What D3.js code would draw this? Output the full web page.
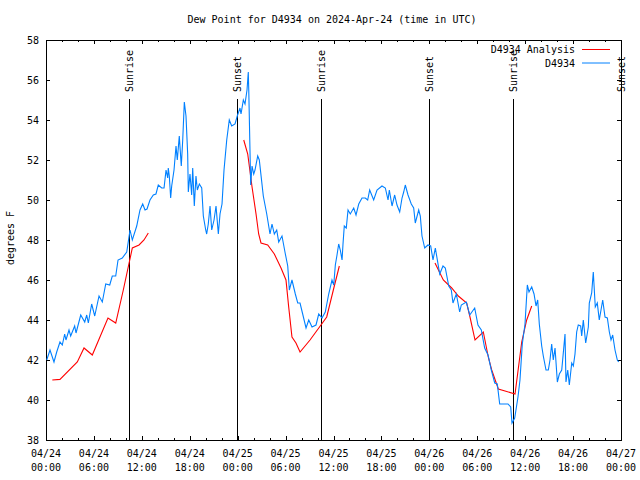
<!DOCTYPE html>
<html><head><meta charset="utf-8">
<script src="https://cdn.jsdelivr.net/npm/d3@7"></script>
<style>
body{margin:0;background:#fff}
text{font-family:"DejaVu Sans Mono","Liberation Mono",monospace;font-size:10px;fill:#000}
</style>
</head><body>
<svg id="c" width="640" height="480"></svg>
<script>
// hours since 2024-04-24 00:00 UTC
const stationHours = [0.09,0.50,1.00,1.34,1.75,2.04,2.34,2.50,2.88,3.09,3.59,3.76,4.35,4.85,5.10,5.30,5.72,6.10,6.64,7.05,7.48,7.98,8.30,8.73,9.02,9.55,10.11,10.52,10.81,11.36,11.77,12.11,12.40,12.65,13.02,13.44,13.77,14.06,14.49,14.78,15.03,15.24,15.31,15.44,15.61,15.74,16.03,16.28,16.44,16.69,16.94,17.12,17.32,17.53,17.74,17.82,18.03,18.24,18.37,18.57,18.78,18.95,19.20,19.50,19.70,20.00,20.12,20.32,20.54,20.75,21.04,21.29,21.58,21.79,22.04,22.29,22.63,22.95,23.25,23.67,23.95,24.29,24.42,24.71,24.92,25.17,25.33,25.39,25.63,25.80,26.01,26.17,26.51,26.71,27.21,27.64,28.05,28.30,28.59,28.89,29.14,29.55,29.97,30.27,30.47,30.80,31.22,31.52,31.81,32.14,32.56,32.90,33.31,33.81,34.15,34.56,34.97,35.40,35.81,36.03,36.23,36.44,36.65,36.85,37.07,37.19,37.35,37.60,37.82,38.10,38.53,38.82,39.16,39.57,39.98,40.28,40.53,41.03,41.45,42.07,42.49,42.83,42.99,43.33,43.66,43.95,44.29,44.58,44.79,44.99,45.33,45.74,46.04,46.24,46.67,46.87,47.08,47.42,47.83,48.17,48.46,48.75,49.30,49.71,50.00,50.43,50.75,50.96,51.38,51.80,52.00,52.63,53.06,53.68,54.09,54.51,54.93,55.35,55.76,56.19,56.51,56.81,57.85,58.19,58.35,58.69,59.10,59.35,59.64,59.98,60.27,60.48,60.82,61.11,61.36,61.57,61.77,62.07,62.27,62.61,62.90,63.11,63.32,63.52,63.74,64.03,64.28,64.58,64.99,65.11,65.33,65.53,65.83,66.03,66.24,66.45,66.65,66.95,67.08,67.28,67.58,67.91,68.03,68.33,68.53,68.78,69.03,69.28,69.71,70.00,70.29,70.54,70.75,70.96,71.25,71.54,71.71];
const stationValues = [42.0,42.5,41.9,42.4,42.9,42.75,43.3,43.0,43.5,43.2,43.7,43.35,44.25,43.9,44.25,43.85,44.8,44.2,45.2,44.9,45.8,45.75,46.2,46.2,47.0,47.1,47.4,48.5,48.0,48.7,49.5,49.8,49.5,49.55,50.0,50.25,50.3,50.75,50.6,50.6,51.5,51.1,51.6,51.2,50.1,50.7,51.5,52.7,52.0,53.2,51.7,53.0,54.9,54.2,52.3,50.4,51.3,50.25,51.6,49.7,51.2,50.5,50.8,50.6,49.2,48.5,48.3,48.8,49.7,48.5,49.0,49.7,48.3,49.3,49.8,51.5,53.0,54.0,53.7,53.8,54.2,54.6,54.3,55.0,54.8,55.5,56.4,55.5,50.75,51.7,51.3,51.5,52.2,52.0,50.2,49.3,48.3,48.8,48.3,48.5,47.9,48.2,47.3,46.7,45.5,46.0,45.3,44.85,44.85,44.3,43.6,44.0,43.65,43.75,44.3,44.1,44.4,45.3,46.0,45.75,46.75,47.25,47.8,47.5,47.0,47.8,48.7,48.6,49.5,49.3,49.6,49.25,49.8,50.1,50.1,50.0,50.5,50.0,50.5,50.7,50.6,50.0,50.5,49.7,50.25,49.75,49.4,50.1,50.4,50.75,50.25,49.8,49.6,48.85,49.5,49.2,48.2,47.6,47.75,47.7,47.0,47.6,46.3,46.7,46.6,45.7,45.5,44.85,45.3,44.4,44.75,44.9,44.25,44.6,43.75,43.5,42.6,42.25,41.5,40.85,40.8,39.8,39.8,39.65,38.85,39.1,40.15,41.0,42.8,43.8,45.75,45.4,45.65,45.3,44.7,45.0,43.8,42.7,42.2,41.5,41.5,42.0,42.8,42.0,42.6,40.9,41.3,41.5,43.3,40.9,41.5,40.75,41.85,41.7,42.3,43.4,43.75,43.7,43.2,44.0,42.85,43.65,44.85,45.35,46.4,44.65,44.85,44.0,45.0,44.15,44.1,43.4,43.0,43.25,42.5,42.0,41.9];

// null = gap between analysis runs
const analysisHours = [0.79,1.75,3.92,4.76,5.80,7.76,8.73,9.68,10.27,10.81,11.65,12.27,12.81,null,24.76,25.26,25.80,26.30,26.63,26.92,27.76,28.59,29.43,30.05,30.39,30.80,31.30,31.81,33.06,34.43,35.15,35.98,36.73,null,48.71,49.75,50.80,51.63,52.68,53.09,53.72,54.76,55.38,55.81,56.64,57.48,58.73,59.07,59.57,60.19,60.82];
const analysisValues = [41.0,41.03,41.9,42.6,42.25,44.1,43.85,45.5,46.6,47.6,47.75,48.0,48.35,null,53.0,52.3,50.65,49.3,48.3,47.85,47.75,47.3,46.6,46.0,44.65,43.15,42.85,42.4,43.0,43.75,44.15,45.5,46.7,null,46.85,46.0,45.6,45.2,44.85,44.15,43.0,43.4,42.15,41.5,40.55,40.45,40.3,41.35,42.9,44.0,44.7];

const sunriseHours = [10.4, 34.4, 58.5];
const sunsetHours = [23.9, 47.95, 71.98];
const yTicks = [38,40,42,44,46,48,50,52,54,56,58];
const xMajorHours = [0,6,12,18,24,30,36,42,48,54,60,66,72];
const xMinorHours = d3.range(0, 73, 2);
const seriesNames = ["D4934 Analysis", "D4934"];
const seriesColors = ["#ff0000", "#0080ff"];
const titleText = "Dew Point for D4934 on 2024-Apr-24 (time in UTC)";
const yLabel = "degrees F";

const base = Date.UTC(2024, 3, 24, 0, 0);
const toDate = h => new Date(base + h * 3600e3);

const L = 46, R = 621, T = 40, B = 440;
const svg = d3.select("#c");
const x = d3.scaleUtc().domain([toDate(0), toDate(72)]).range([L, R]);
const y = d3.scaleLinear().domain([38, 58]).range([B, T]);

svg.append("rect").attr("width", 640).attr("height", 480).attr("fill", "#fff");

// ticks (mirrored, inside)
function tickAxis(gen, tx, ty, vals, size) {
  const g = svg.append("g").attr("transform", `translate(${tx},${ty})`)
    .call(gen.tickValues(vals).tickSize(size).tickFormat(""));
  g.select(".domain").remove();
  g.selectAll("line").attr("stroke", "#000").attr("shape-rendering", "crispEdges");
  return g;
}
const minorDates = xMinorHours.map(toDate);
const majorDates = xMajorHours.map(toDate);
tickAxis(d3.axisBottom(x), 0, B, minorDates, -2);
tickAxis(d3.axisTop(x), 0, T, minorDates, -2);
tickAxis(d3.axisBottom(x), 0, B, majorDates, -4);
tickAxis(d3.axisTop(x), 0, T, majorDates, -4);
tickAxis(d3.axisLeft(y), L, 0, yTicks, -4);
tickAxis(d3.axisRight(y), R, 0, yTicks, -4);

// y labels
svg.append("g").selectAll("text").data(yTicks).join("text")
  .attr("x", 39).attr("y", d => y(d)).attr("dy", "0.35em")
  .attr("text-anchor", "end").text(d => d);

// x labels
const fmtD = d3.utcFormat("%m/%d"), fmtT = d3.utcFormat("%H:%M");
const xl = svg.append("g").selectAll("g").data(majorDates).join("g");
xl.append("text").attr("x", d => x(d)).attr("y", 457).attr("text-anchor", "middle").text(d => fmtD(d));
xl.append("text").attr("x", d => x(d)).attr("y", 471).attr("text-anchor", "middle").text(d => fmtT(d));

// sun lines
const sun = sunriseHours.map(h => ({h, t: "Sunrise"})).concat(sunsetHours.map(h => ({h, t: "Sunset"})));
svg.append("g").selectAll("line").data(sun).join("line")
  .attr("x1", d => Math.round(x(toDate(d.h))) + 0.5).attr("x2", d => Math.round(x(toDate(d.h))) + 0.5)
  .attr("y1", 99).attr("y2", B).attr("stroke", "#000").attr("stroke-width", 1);
svg.append("g").selectAll("text").data(sun).join("text")
  .attr("transform", d => `translate(${Math.round(x(toDate(d.h))) + 0.5},92) rotate(-90)`)
  .attr("dy", "0.35em").attr("text-anchor", "start").text(d => d.t);

// border
svg.append("rect").attr("x", L + 0.5).attr("y", T + 0.5).attr("width", R - L).attr("height", B - T)
  .attr("fill", "none").attr("stroke", "#000").attr("shape-rendering", "crispEdges");

// data lines
const line = d3.line().defined(d => d[0] != null && d[1] != null)
  .x(d => x(toDate(d[0]))).y(d => y(d[1]));
svg.append("path").datum(analysisHours.map((h, i) => [h, analysisValues[i]]))
  .attr("d", line).attr("fill", "none").attr("stroke", seriesColors[0]).attr("stroke-width", 1.1);
svg.append("path").datum(stationHours.map((h, i) => [h, stationValues[i]]))
  .attr("d", line).attr("fill", "none").attr("stroke", seriesColors[1]).attr("stroke-width", 1.1);

// legend
const lg = svg.append("g").selectAll("g").data(seriesNames).join("g")
  .attr("transform", (d, i) => `translate(0,${49.5 + i * 13.5})`);
lg.append("text").attr("x", 575).attr("dy", "0.35em").attr("text-anchor", "end").text(d => d);
lg.append("line").attr("x1", 582).attr("x2", 610).attr("stroke", (d, i) => seriesColors[i]).attr("stroke-width", 1);

// title and y label
svg.append("text").attr("x", 332).attr("y", 23).attr("text-anchor", "middle").text(titleText);
svg.append("text").attr("transform", "translate(14,238) rotate(-90)").attr("text-anchor", "middle").text(yLabel);
</script>
</body></html>
